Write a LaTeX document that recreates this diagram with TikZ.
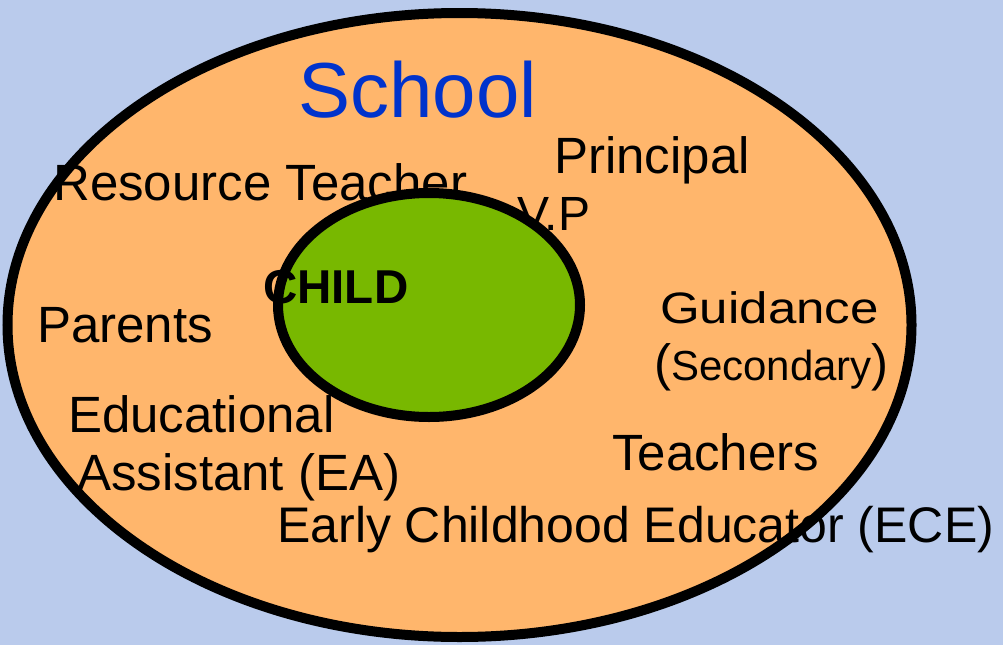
\documentclass[tikz,border=0pt]{standalone}
\usepackage{fontspec}
\setmainfont{Liberation Sans}
\usepackage{xcolor}
\usetikzlibrary{shapes.geometric}

\definecolor{bgblue}{HTML}{BACBEC}
\definecolor{schoolorange}{HTML}{FFB66C}
\definecolor{childgreen}{HTML}{78B800}
\definecolor{titleblue}{HTML}{0033CC}

\begin{document}
\begin{tikzpicture}[
                x=1pt, y=-1pt,
                ring/.style={ellipse, draw=black, line width=10pt, inner sep=0pt},
                member/.style={anchor=base west, inner sep=0pt, font=\fontsize{51}{58}\selectfont}
                ]
                % Background
                \fill[bgblue] (0,0) rectangle (1003,645);
                \useasboundingbox (0,0) rectangle (1003,645);

                % School ring
                \node[ring, fill=schoolorange, minimum width=904pt, minimum height=624pt] (school) at (459.5,325) {};
                \node[anchor=base, inner sep=0pt, text=titleblue, font=\fontsize{78}{90}\selectfont] (title) at (417.5,117) {School};

                % Labels partly under the child ring
                \node[member] (resource) at (53,200) {Resource Teacher};
                \node[member, font=\fontsize{48}{58}\selectfont] (vp) at (517,230) {V.P};

                % Child ring
                \node[ring, fill=childgreen, minimum width=302pt, minimum height=224pt] (child) at (429,305) {};
                \node[member, font=\fontsize{47.5}{56}\selectfont\bfseries] (childname) at (263,303) {CHILD};

                % Other members
                \node[member] (principal) at (554,173) {Principal};
                \node[member] (parents) at (37,342) {Parents};
                \node[member, font=\fontsize{44}{52}\selectfont, xscale=1.16] (guidance) at (660,323) {Guidance};
                \node[member] (secondary) at (654,380) {({\fontsize{42}{50}\selectfont Secondary})};
                \node[member] (edu) at (68,432) {Educational};
                \node[member] (assistant) at (77,490) {Assistant (EA)};
                \node[member] (teachers) at (612,470) {Teachers};
                \node[member, font=\fontsize{50}{58}\selectfont] (ece) at (277,542) {Early Childhood Educator (ECE)};

\end{tikzpicture}
\end{document}
